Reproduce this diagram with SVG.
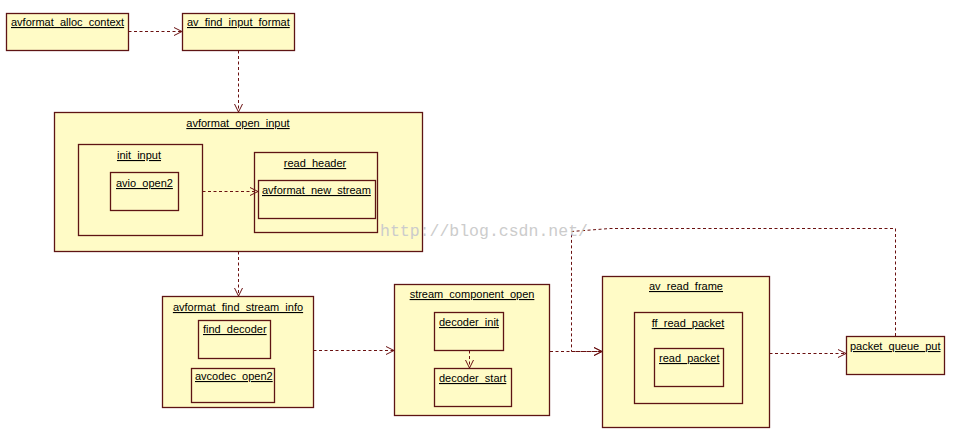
<svg xmlns="http://www.w3.org/2000/svg" width="956" height="447" viewBox="0 0 956 447">
<defs>
<style>
.n{fill:#fffbc6;stroke:#5e1414;stroke-width:1.3}
.t{font-family:"Liberation Sans",Arial,sans-serif;font-size:11px;fill:#000;text-decoration:underline}
.c{text-anchor:middle}
.e{fill:none;stroke:#6a1010;stroke-width:1;stroke-dasharray:3,2.5}
.wm{font-family:"Liberation Mono",monospace;font-size:16.5px;fill:#cccccc}
</style>
<marker id="a" markerUnits="userSpaceOnUse" markerWidth="12" markerHeight="12" refX="9" refY="5" orient="auto">
<path d="M1,1 L9,5 L1,9" fill="none" stroke="#6a1010" stroke-width="1"/>
</marker>
</defs>
<rect width="956" height="447" fill="#fff"/>
<g id="avformat_alloc_context"><rect class="n" x="6.5" y="13.5" width="122" height="37"/><text class="t" x="11" y="26">avformat_alloc_context</text></g>
<g id="av_find_input_format"><rect class="n" x="182.5" y="13.5" width="112" height="37"/><text class="t" x="187" y="26">av_find_input_format</text></g>
<g id="avformat_open_input"><rect class="n" x="54.5" y="112.5" width="368" height="139"/><text class="t c" x="238" y="127">avformat_open_input</text>
<g id="init_input"><rect class="n" x="78.5" y="144.5" width="124" height="91"/><text class="t c" x="139" y="159">init_input</text>
<g id="avio_open2"><rect class="n" x="110.5" y="172.5" width="68" height="38"/><text class="t" x="116" y="187">avio_open2</text></g></g>
<g id="read_header"><rect class="n" x="254.5" y="152.5" width="123" height="80"/><text class="t c" x="315" y="167">read_header</text>
<g id="avformat_new_stream"><rect class="n" x="258.5" y="180.5" width="117" height="38"/><text class="t" x="262" y="194">avformat_new_stream</text></g></g></g>
<g id="avformat_find_stream_info"><rect class="n" x="162.5" y="296.5" width="151" height="111"/><text class="t c" x="238" y="311">avformat_find_stream_info</text>
<g id="find_decoder"><rect class="n" x="198.5" y="320.5" width="72" height="38"/><text class="t" x="203" y="333">find_decoder</text></g>
<g id="avcodec_open2"><rect class="n" x="191.5" y="368.5" width="83" height="34"/><text class="t" x="195" y="380">avcodec_open2</text></g></g>
<g id="stream_component_open"><rect class="n" x="394.5" y="284.5" width="155" height="131"/><text class="t c" x="472" y="298">stream_component_open</text>
<g id="decoder_init"><rect class="n" x="434.5" y="312.5" width="69" height="38"/><text class="t" x="439" y="326">decoder_init</text></g>
<g id="decoder_start"><rect class="n" x="434.5" y="368.5" width="77" height="38"/><text class="t" x="439" y="382">decoder_start</text></g></g>
<g id="av_read_frame"><rect class="n" x="602.5" y="276.5" width="167" height="151"/><text class="t c" x="686" y="290">av_read_frame</text>
<g id="ff_read_packet"><rect class="n" x="634.5" y="312.5" width="108" height="91"/><text class="t c" x="688" y="327">ff_read_packet</text>
<g id="read_packet"><rect class="n" x="654.5" y="348.5" width="69" height="38"/><text class="t" x="659" y="362">read_packet</text></g></g></g>
<g id="packet_queue_put"><rect class="n" x="846.5" y="336.5" width="98" height="38"/><text class="t" x="850" y="350">packet_queue_put</text></g>
<g id="connectors">
<path class="e" d="M128.5,31.5 H182" marker-end="url(#a)"/>
<path class="e" d="M238.5,50.5 V112" marker-end="url(#a)"/>
<path class="e" d="M202.5,191.5 H258" marker-end="url(#a)"/>
<path class="e" d="M238.5,251.5 V296" marker-end="url(#a)"/>
<path class="e" d="M313.5,350.5 H394" marker-end="url(#a)"/>
<path class="e" d="M469.5,350.5 V368" marker-end="url(#a)"/>
<path class="e" d="M550,351.5 H602" marker-end="url(#a)"/>
<path class="e" d="M769.5,353.5 H846" marker-end="url(#a)"/>
<path class="e" d="M895.5,336 V228.5 H610 L571.5,231.5 V351.5 H602" marker-end="url(#a)"/>
</g>
<text class="wm" x="380" y="236">http://blog.csdn.net/</text>
</svg>
